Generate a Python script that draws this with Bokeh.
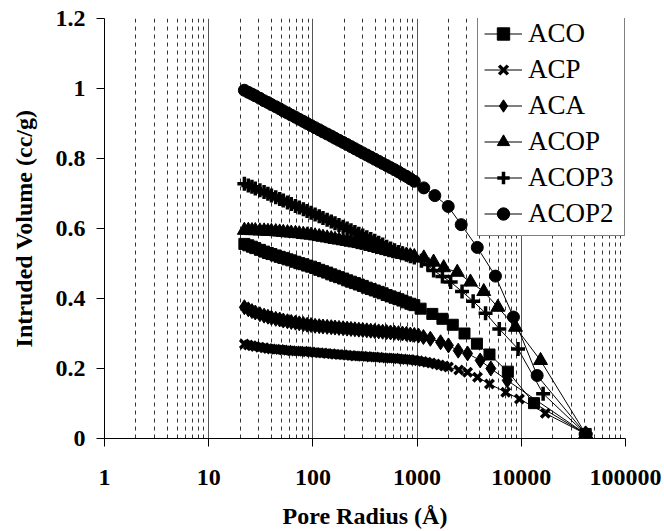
from bokeh.plotting import figure
from bokeh.models import Range1d, FixedTicker, Legend, LegendItem
from bokeh.embed import file_html
from bokeh.resources import INLINE

# ---------------- data ----------------
X_TICKS = [1, 10, 100, 1000, 10000, 100000]
X_TICK_LABELS = ["1", "10", "100", "1000", "10000", "100000"]
Y_TICKS = [0, 0.2, 0.4, 0.6, 0.8, 1, 1.2]
Y_TICK_LABELS = ["0", "0.2", "0.4", "0.6", "0.8", "1", "1.2"]

# pore radii (Å) of the densely sampled part, shared by all samples
DENSE_R = [22, 24, 26, 28, 31, 34, 37, 40, 44, 48,
           52, 57, 62, 68, 74, 81, 88, 96, 105, 115,
           125, 137, 150, 163, 178, 195, 213, 232, 253, 276,
           301, 329, 359, 392, 428, 467, 510, 556, 607, 662,
           723, 789, 861, 940]

ACO_DENSE = [0.556, 0.552, 0.548, 0.544, 0.539, 0.534, 0.530, 0.527, 0.523, 0.519,
             0.516, 0.512, 0.509, 0.505, 0.501, 0.498, 0.494, 0.491, 0.487, 0.482,
             0.478, 0.474, 0.469, 0.465, 0.461, 0.457, 0.452, 0.448, 0.444, 0.440,
             0.436, 0.431, 0.427, 0.423, 0.419, 0.415, 0.410, 0.406, 0.402, 0.398,
             0.394, 0.389, 0.385, 0.381]
ACO_TAIL_R = [1080, 1400, 1750, 2200, 2850, 3750, 4950, 7430, 13250, 41500]
ACO_TAIL_V = [0.371, 0.356, 0.342, 0.325, 0.300, 0.271, 0.240, 0.191, 0.101, 0.013]

ACP_DENSE = [0.270, 0.267, 0.265, 0.263, 0.261, 0.259, 0.257, 0.256, 0.255, 0.254,
             0.253, 0.252, 0.251, 0.250, 0.249, 0.249, 0.248, 0.247, 0.246, 0.245,
             0.244, 0.243, 0.242, 0.241, 0.240, 0.239, 0.238, 0.237, 0.236, 0.236,
             0.235, 0.234, 0.233, 0.233, 0.232, 0.231, 0.230, 0.229, 0.229, 0.228,
             0.227, 0.226, 0.225, 0.224]
ACP_TAIL_R = [1030, 1130, 1240, 1360, 1500, 1650, 1820, 2000, 2510, 3050,
              3800, 4950, 7090, 9600, 17000, 41500]
ACP_TAIL_V = [0.222, 0.220, 0.218, 0.216, 0.213, 0.210, 0.207, 0.204, 0.196, 0.189,
              0.175, 0.156, 0.132, 0.113, 0.072, 0.013]

ACA_DENSE = [0.375, 0.369, 0.364, 0.360, 0.355, 0.351, 0.348, 0.345, 0.342, 0.340,
             0.337, 0.335, 0.333, 0.331, 0.329, 0.327, 0.325, 0.324, 0.322, 0.321,
             0.320, 0.319, 0.318, 0.317, 0.316, 0.315, 0.314, 0.313, 0.312, 0.311,
             0.310, 0.309, 0.308, 0.307, 0.306, 0.305, 0.304, 0.303, 0.302, 0.301,
             0.300, 0.299, 0.297, 0.296]
ACA_TAIL_R = [1030, 1150, 1340, 1680, 2000, 2480, 3050, 4030, 5100, 7330, 41500]
ACA_TAIL_V = [0.294, 0.290, 0.285, 0.275, 0.266, 0.251, 0.243, 0.223, 0.200, 0.166, 0.013]

ACOP_DENSE = [0.595, 0.595, 0.594, 0.594, 0.593, 0.593, 0.592, 0.592, 0.591, 0.590,
              0.589, 0.588, 0.587, 0.586, 0.585, 0.583, 0.582, 0.581, 0.579, 0.577,
              0.575, 0.573, 0.571, 0.569, 0.567, 0.565, 0.563, 0.561, 0.559, 0.557,
              0.554, 0.552, 0.549, 0.546, 0.543, 0.540, 0.537, 0.534, 0.531, 0.528,
              0.526, 0.524, 0.522, 0.520]
ACOP_TAIL_R = [1160, 1440, 1800, 2430, 3250, 4360, 5960, 8790, 15300, 41500]
ACOP_TAIL_V = [0.516, 0.504, 0.488, 0.475, 0.447, 0.420, 0.375, 0.318, 0.223, 0.013]

ACOP3_DENSE = [0.728, 0.723, 0.719, 0.714, 0.709, 0.704, 0.699, 0.694, 0.689, 0.684,
               0.680, 0.674, 0.670, 0.664, 0.660, 0.655, 0.650, 0.645, 0.640, 0.635,
               0.630, 0.625, 0.620, 0.615, 0.610, 0.605, 0.600, 0.595, 0.590, 0.585,
               0.580, 0.575, 0.570, 0.565, 0.559, 0.554, 0.548, 0.543, 0.538, 0.533,
               0.529, 0.525, 0.521, 0.517]
ACOP3_TAIL_R = [1100, 1270, 1440, 1750, 2100, 2700, 3450, 4540, 6150, 9300, 16200, 41500]
ACOP3_TAIL_V = [0.508, 0.497, 0.480, 0.463, 0.447, 0.420, 0.392, 0.358, 0.313, 0.256, 0.128, 0.013]

ACOP2_DENSE = [0.995, 0.989, 0.984, 0.979, 0.972, 0.965, 0.960, 0.954, 0.948, 0.942,
               0.936, 0.930, 0.924, 0.918, 0.912, 0.906, 0.900, 0.894, 0.888, 0.882,
               0.876, 0.870, 0.864, 0.858, 0.852, 0.846, 0.840, 0.834, 0.828, 0.822,
               0.816, 0.810, 0.804, 0.798, 0.792, 0.786, 0.780, 0.774, 0.768, 0.762,
               0.755, 0.749, 0.742, 0.735]
ACOP2_TAIL_R = [1160, 1480, 1990, 2650, 3780, 5650, 8410, 14200, 41500]
ACOP2_TAIL_V = [0.716, 0.694, 0.663, 0.611, 0.546, 0.464, 0.347, 0.180, 0.013]

SERIES = [
    ("ACO", DENSE_R + ACO_TAIL_R, ACO_DENSE + ACO_TAIL_V),
    ("ACP", DENSE_R + ACP_TAIL_R, ACP_DENSE + ACP_TAIL_V),
    ("ACA", DENSE_R + ACA_TAIL_R, ACA_DENSE + ACA_TAIL_V),
    ("ACOP", DENSE_R + ACOP_TAIL_R, ACOP_DENSE + ACOP_TAIL_V),
    ("ACOP3", DENSE_R + ACOP3_TAIL_R, ACOP3_DENSE + ACOP3_TAIL_V),
    ("ACOP2", DENSE_R + ACOP2_TAIL_R, ACOP2_DENSE + ACOP2_TAIL_V),
]

# ---------------- styles ----------------
MARKERS = {
    "ACO": dict(marker="square", size=11, line_width=1),
    "ACP": dict(marker="x", size=12, line_width=3.5),
    "ACA": dict(marker="diamond", size=15, line_width=1),
    "ACOP": dict(marker="triangle", size=14, line_width=1),
    "ACOP3": dict(marker="cross", size=14, line_width=3.5),
    "ACOP2": dict(marker="circle", size=12, line_width=1),
}
SERIF = "Liberation Serif"

p = figure(width=664, height=531, x_axis_type="log",
           x_range=Range1d(1, 100000), y_range=Range1d(0, 1.2),
           output_backend="svg", toolbar_location=None,
           min_border_left=104, min_border_right=39,
           min_border_top=18, min_border_bottom=93)
p.outline_line_color = None
p.background_fill_color = "white"
p.border_fill_color = "white"

# vertical grid: solid at decades, dashed at 2..9 of each decade
minor = [m * 10 ** d for d in range(5) for m in range(2, 10)]
p.xgrid.ticker = FixedTicker(ticks=[10, 100, 1000, 10000], minor_ticks=minor)
p.xgrid.grid_line_color = "#555555"
p.xgrid.grid_line_width = 1
p.xgrid.minor_grid_line_color = "#333333"
p.xgrid.minor_grid_line_width = 1
p.xgrid.minor_grid_line_dash = "4 4"
p.ygrid.visible = False

xa = p.xaxis[0]
ya = p.yaxis[0]
xa.ticker = FixedTicker(ticks=X_TICKS, minor_ticks=[])
xa.major_label_overrides = {t: l for t, l in zip(X_TICKS, X_TICK_LABELS)}
ya.ticker = FixedTicker(ticks=Y_TICKS, minor_ticks=[])
ya.major_label_overrides = {t: l for t, l in zip(Y_TICKS, Y_TICK_LABELS)}
xa.axis_label = "Pore Radius (Å)"
ya.axis_label = "Intruded Volume (cc/g)"

for ax in (xa, ya):
    ax.major_label_text_font = SERIF
    ax.major_label_text_font_style = "bold"
    ax.major_label_text_font_size = "24px"
    ax.major_label_text_color = "black"
    ax.axis_label_text_font = SERIF
    ax.axis_label_text_font_style = "bold"
    ax.axis_label_text_font_size = "24px"
    ax.axis_label_text_color = "black"
    ax.axis_line_color = "black"
    ax.axis_line_width = 1
    ax.major_tick_line_color = "black"
    ax.minor_tick_line_color = None
    ax.major_tick_in = 0
    ax.major_tick_out = 8
xa.major_label_standoff = 23
xa.axis_label_standoff = 15
ya.major_label_standoff = 11
ya.axis_label_standoff = 16

items = []
for name, xs, ys in SERIES:
    ln = p.line(xs, ys, line_color="black", line_width=1)
    st = MARKERS[name]
    sc = p.scatter(xs, ys, marker=st["marker"], size=st["size"],
                   fill_color="black", line_color="black",
                   line_width=st["line_width"])
    items.append(LegendItem(label=name, renderers=[ln, sc]))

legend = Legend(items=items, location=(373, 202))
legend.border_line_color = "black"
legend.border_line_width = 1
legend.background_fill_color = "white"
legend.background_fill_alpha = 1
legend.label_text_font = SERIF
legend.label_text_font_size = "27px"
legend.label_text_color = "black"
legend.glyph_width = 38
legend.glyph_height = 31
legend.label_height = 31
legend.label_width = 90
legend.label_standoff = 6
legend.padding = 6
legend.spacing = 5
legend.margin = 0
p.add_layout(legend)

open("out.html", "w").write(file_html(p, INLINE))
